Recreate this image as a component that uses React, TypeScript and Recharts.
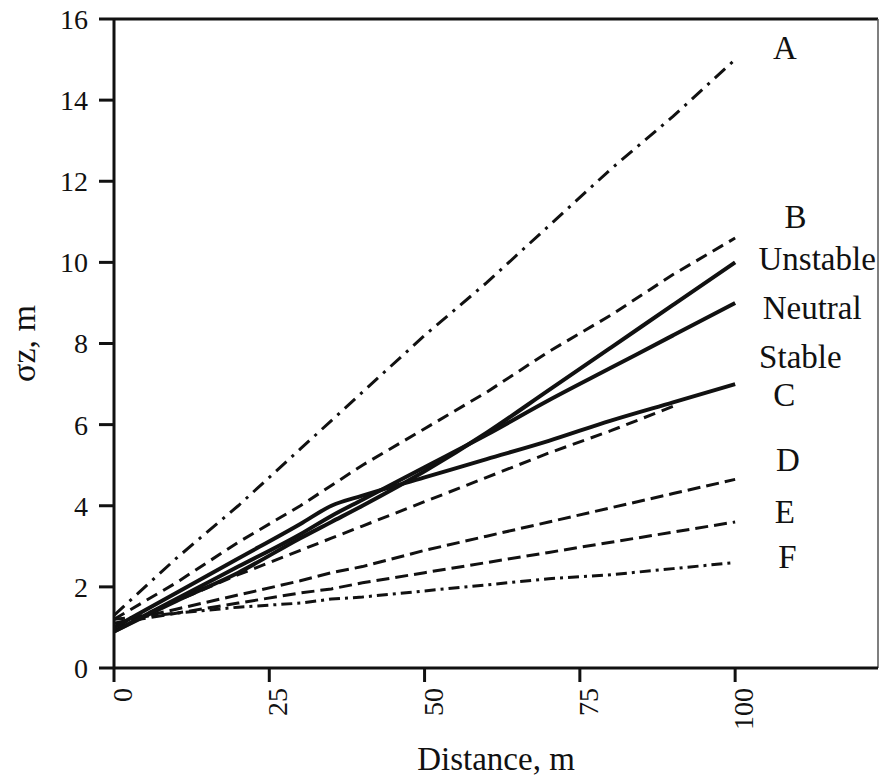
import { LineChart, Line, XAxis, YAxis, ReferenceLine, ReferenceDot } from "recharts"

const distance = [0, 10, 20, 30, 35, 40, 50, 60, 70, 80, 90, 100]

const curveA = [1.3, 2.7, 4.0, 5.4, 6.1, 6.8, 8.2, 9.5, 10.9, 12.3, 13.6, 15.0]
const curveB = [1.2, 2.1, 3.1, 4.0, 4.5, 5.0, 5.9, 6.8, 7.8, 8.7, 9.7, 10.6]
const curveC = [1.0, 1.65, 2.3, 2.9, 3.2, 3.5, 4.1, 4.7, 5.3, 5.85, 6.45, null]
const curveD = [1.1, 1.45, 1.8, 2.15, 2.35, 2.5, 2.9, 3.25, 3.6, 3.95, 4.3, 4.65]
const curveE = [1.1, 1.35, 1.6, 1.85, 1.95, 2.1, 2.35, 2.6, 2.85, 3.1, 3.35, 3.6]
const curveF = [1.2, 1.35, 1.5, 1.6, 1.7, 1.75, 1.9, 2.05, 2.2, 2.3, 2.45, 2.6]
const unstable = [0.9, 1.65, 2.35, 3.2, 3.6, 4.0, 4.85, 5.8, 6.85, 7.9, 8.95, 10.0]
const neutral = [0.9, 1.7, 2.5, 3.3, 3.75, 4.15, 4.95, 5.75, 6.6, 7.4, 8.2, 9.0]
const stable = [1.0, 1.85, 2.7, 3.55, 4.0, 4.25, 4.7, 5.15, 5.6, 6.1, 6.55, 7.0]

const xTicks = [0, 25, 50, 75, 100]
const yTicks = [0, 2, 4, 6, 8, 10, 12, 14, 16]

// where the curve names sit, in data units
const labelPos = [
  { name: "A", x: 108.0, y: 15.28 },
  { name: "B", x: 109.7, y: 11.12 },
  { name: "Unstable", x: 113.2, y: 10.08 },
  { name: "Neutral", x: 112.4, y: 8.87 },
  { name: "Stable", x: 110.5, y: 7.67 },
  { name: "C", x: 107.9, y: 6.73 },
  { name: "D", x: 108.5, y: 5.13 },
  { name: "E", x: 108.0, y: 3.85 },
  { name: "F", x: 108.4, y: 2.74 },
]

const data = distance.map((d, i) => ({
  d,
  A: curveA[i],
  B: curveB[i],
  C: curveC[i],
  D: curveD[i],
  E: curveE[i],
  F: curveF[i],
  unstable: unstable[i],
  neutral: neutral[i],
  stable: stable[i],
}))

const FONT = "'Liberation Serif', 'Times New Roman', serif"
const INK = "#111"

function XTick({ x, y, payload }: any) {
  return (
    <g transform={`translate(${x},${y})`}>
      <text x={0} y={18} transform="rotate(-90)" textAnchor="end" fontSize={28} fontFamily={FONT} fill={INK}>
        {payload.value}
      </text>
    </g>
  )
}

export default function App() {
  // pinned to the window corner so the body margin doesn't push it
  return (
    <div style={{ position: "absolute", left: 0, top: 0 }}>
      <LineChart width={883} height={776} data={data} margin={{ top: 19, right: 5, left: 0, bottom: 0 }}>
        <XAxis
          dataKey="d"
          type="number"
          domain={[0, 123]}
          ticks={xTicks}
          interval={0}
          height={108}
          tickSize={14}
          tickMargin={6}
          tick={<XTick />}
          axisLine={{ stroke: INK, strokeWidth: 3 }}
          tickLine={{ stroke: INK, strokeWidth: 3 }}
          label={{ value: "Distance, m", position: "insideBottom", offset: 6, fontSize: 33, fontFamily: FONT, fill: INK }}
        />
        <YAxis
          type="number"
          domain={[0, 16]}
          ticks={yTicks}
          interval={0}
          width={114}
          tickSize={15}
          tickMargin={11}
          tick={{ fontSize: 28, fontFamily: FONT, fill: INK }}
          axisLine={{ stroke: INK, strokeWidth: 3 }}
          tickLine={{ stroke: INK, strokeWidth: 3 }}
          label={{
            value: "σz, m",
            angle: -90,
            position: "insideLeft",
            offset: 23,
            fontSize: 34,
            fontFamily: FONT,
            fill: INK,
            style: { textAnchor: "middle" },
          }}
        />
        <ReferenceLine y={16} stroke={INK} strokeWidth={3} />
        <ReferenceLine x={123} stroke="#555" strokeWidth={1.5} />

        <Line dataKey="A" type="linear" stroke={INK} strokeWidth={3} strokeDasharray="14 7 3 7" dot={false} isAnimationActive={false} />
        <Line dataKey="B" type="linear" stroke={INK} strokeWidth={3} strokeDasharray="12 7" dot={false} isAnimationActive={false} />
        <Line dataKey="C" type="linear" stroke={INK} strokeWidth={3} strokeDasharray="12 7" dot={false} isAnimationActive={false} />
        <Line dataKey="D" type="linear" stroke={INK} strokeWidth={3} strokeDasharray="13 6" dot={false} isAnimationActive={false} />
        <Line dataKey="E" type="linear" stroke={INK} strokeWidth={3} strokeDasharray="13 6" dot={false} isAnimationActive={false} />
        <Line dataKey="F" type="linear" stroke={INK} strokeWidth={3} strokeDasharray="11 5 3 5" dot={false} isAnimationActive={false} />
        <Line dataKey="unstable" type="monotone" stroke={INK} strokeWidth={4} dot={false} isAnimationActive={false} />
        <Line dataKey="neutral" type="monotone" stroke={INK} strokeWidth={4} dot={false} isAnimationActive={false} />
        <Line dataKey="stable" type="monotone" stroke={INK} strokeWidth={4} dot={false} isAnimationActive={false} />

        {labelPos.map((p) => (
          <ReferenceDot
            key={p.name}
            x={p.x}
            y={p.y}
            r={0}
            ifOverflow="visible"
            shape={(props: any) => (
              <text
                x={props.cx}
                y={props.cy}
                textAnchor="middle"
                dominantBaseline="central"
                fontSize={33}
                fontFamily={FONT}
                fill={INK}
              >
                {p.name}
              </text>
            )}
          />
        ))}
      </LineChart>
    </div>
  )
}
